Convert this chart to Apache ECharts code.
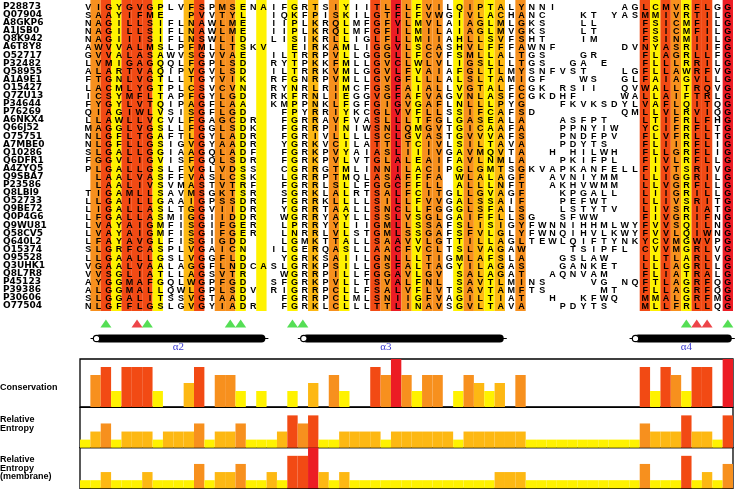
<!DOCTYPE html>
<html>
<head>
<meta charset="utf-8">
<script src="https://cdn.jsdelivr.net/npm/echarts@6/dist/echarts.min.js"></script>
<style>
  html, body { margin: 0; padding: 0; background: #fff; }
  #chart { width: 739px; height: 494px; }
</style>
</head>
<body>
<div id="chart"></div>
<script>
// sequence ids, top to bottom
var ids = ['P28873', 'Q07904', 'A8GKP6', 'A1JSB0', 'Q8K942', 'A6T8Y8', 'O52717', 'P32482', 'Q58955',
  'A1A9E1', 'O15427', 'Q7ZU13', 'P34644', 'P76269', 'A6NKX4', 'Q66J52', 'O75751', 'A7MBE0', 'Q10286',
  'Q6DFR1', 'A4ZYQ5', 'Q9SBA7', 'P23586', 'Q8LBI9', 'O52733', 'Q9BE72', 'Q0P4G6', 'Q9WU81', 'Q58CV5',
  'Q640L2', 'O15374', 'O95528', 'Q3UHK1', 'Q8L7R8', 'P45123', 'P39386', 'P30606', 'O77504'];

// aligned residues, '-' = gap (63 columns)
var seqs = [
  'VIGYGVGPLVFSPMSE' + 'NAIFGRTSIYIITLFLFVILQIPT' + 'ALYNNI------AGLCMVRFLGG',
  'SAAYIFME--PVVTYL' + '--IQKFPISKILGTFLFVWGIVLA' + 'CHANC---KT-YASMMIVRTILG',
  'NAGILLSIFLNAWLME' + '--IIPLKRQLMFGFVLMVLAIAGL' + 'MLGKS---LL----FSICMFILG',
  'NAGILLSIFLNAWLME' + '--IIPLKRQLMFGFILMILAIAGL' + 'MVGKS---LT----FSICMFILG',
  'NAGIIISIFLNSWLID' + '--LISIKRLLIGLFLLMIIAHLLS' + 'VFSHT---IM----FSINMIILG',
  'AWVVALMSLPFMLLTS' + 'KV--EIRKAMLIGGVLSCASHVLF' + 'FFAWNF------DVNYASRIIFG',
  'GVVALASAWVSGVVAE' + '--ILTRRPVLLGGGLLFCVFSMLL' + 'ALTGS---GR----FLAGRLLFG',
  'LVMIGAGQQLFGPLSD' + '--RYTPKKFMLLGVCLWLVLIGSL' + 'LLTGS--GA-E---FLLLRRILG',
  'ALARTVAQIPVGVLSD' + '--ILTRRKVMLGGVLFVAIAFGLT' + 'LMYSNFVST---LGFLLAWRFVG',
  'FTGNLVGTLLTGYVIK' + '--RFGNRPVMLLGVGFLLLALSLT' + 'AMIGF---WS--GLFAIAGVLLG',
  'LACMLYGTPLCSVCVN' + '--RYNRLRIMCFGSFAIALLVGTA' + 'LFCGK-RSII--QVWALLTRQVG',
  'ICSYMFLTAPFGYLGD' + '--RKFRNLIEGGVGFAFVAGVNLA' + 'SFCGKDHF----WALLAIFTRLG',
  'FYGYLVTQIPAGFLAA' + '--KMPPNKLFGFGIGVGAFLNLLL' + 'PYG---FKVKSDYLVAFLQITQG',
  'QIAGIWLVSISGFLGD' + '---FPYRRIYKCGLVVFLLSSIFC' + 'AFSD--------QMLLVLRVIQG',
  'LLAWLLVCVLFGAGCD' + 'R--FGRRAVFVASLLLTFGLGASE' + 'ALA---ASFPT---LTIFRLFHG',
  'MAGGLVGSLLFGGLSD' + 'K--FGRRPINIWSNLQMGVTGICA' + 'AFA---PPNYIW--YCIFRFLTG',
  'NLGFLTGAFTLGYLAD' + 'R--FGRIVLLLLSCLGVASTGVVV' + 'AFS---PNDFPV--FLVFRLLTG',
  'NLGFLLGSIGVGYAAD' + 'R--YGRKVCILATTLTCIVLSILT' + 'AVA---PDYTS---FLIIRFLIG',
  'SLGALLGGIAAGQLAD' + 'F--FGRKPVYAIASLIIIVGAVMQ' + 'VTA--H-HILWH--FLLGRFLIG',
  'FGGVLIGVISFGQLSD' + 'R--FGRKPVLVTGLALEAIFAVLN' + 'MLA---PKIFPL--FIVLRFLLG',
  'PLGALLGSLFVGLVDS' + 'S--CGRRGTMLINNILACIPGLGM' + 'TSGKVAPKANFELLFIVTSRIVG',
  '-LAALVASFFVASLCS' + 'K--LGRRPTMQLASAFFFA-WLAL' + 'AGF--AVNIYMM--LLIGGRILG',
  '-LAALIVSVMASTVTR' + 'F--FGRRLSLLFGGCFFLL-ALLL' + 'NFT--AKHVWMM--LLVGRFLLG',
  'TIGAMLLSAVMSGKTS' + 'R--SGRKLALRTSALFCITGLLGV' + 'AGF---KPGALL--LIIGRILLG',
  'LLGAILLGAAIGPSSD' + 'R--FGRRKLLLLSILLFVVGALSS' + 'AIF---PEFWT---LLIVSRITG',
  'LIGALLASLTGGVIID' + 'R--YGRRTAALLSNCLLFGGGLSF' + 'ALS---LSTYTV--LIVSRIATG',
  'LFGALLASMIGGIIDD' + 'R--WGRRYAYLLSSLVSGLGAIFF' + 'LLSG--SFWW----FIVGRIFNG',
  'LVAYAIGMFISGIFGE' + 'R--LPRRYYLIIGMLLSSAFSLIS' + 'IGYFWNNIHHMLWYFVVSQILNG',
  'LVAYAIGMFISGIFGE' + 'R--LNRRLVLSTGMLSSGAFSFVL' + 'GLYFWNQIHVLKWYFVVLQIWNG',
  'LFAYAVGLFISGIGDD' + '---LGMKTTALLSAAVVLGTTILL' + 'AGLTEWLQIFTYNKYCVMGWVPG',
  'SLGRFCASPLVGAICN' + '--ILGERQASLLAACFVCLTSLVA' + 'GAW----TSIPFL-CVVMGRLVG',
  'LLGAALLGSLVGGFLD' + '---YGRKSAIILGNLLLTIGMLAF' + 'SLA---GSLAW---LLTLARLVG',
  'VGAALVAALAGGFLND' + 'CASLGRKPSILLGSFALTAGYILA' + 'GAS---GANKET--LLLAGRLLG',
  'VVSGLIATLLAGSVTR' + '---WGRRPILLFGGAVLGV-SALA' + 'GAT--AQNVAM---FLIATRALG',
  'AYGGMAFGQLWGPFGD' + '--SFGRKPVLLTSVALFNL-SAVT' + 'LMINS----VG-NQFTLAGRFQG',
  'ALGGMALLQWLGPLSD' + 'V-RIGRRPCLLFSALVFLVTSAVT' + 'AMFTS-----MT--FLLAGRFQG',
  'SLGGALITSSVGTAAD' + '---FGRRPCLMLSNIIGFVAGILT' + 'IAT--H--KFWQ--MMALGRFMG',
  'NLGFFLGSLGVGYIAD' + 'R--FGRKLCLLLTTLINAVSGVLT' + 'AVA---PDYTS---MLLFRLLQG'
];

// per-column classes: 0 = none, 1 yellow .. 5 red
var conservation = [0, 3, 4, 1, 4, 4, 4, 1, 0, 0,
  2, 4, 0, 3, 3, 1, 0, 1, 0, 0,
  1, 0, 2, 0, 3, 1, 0, 0, 4, 3,
  5, 3, 1, 3, 3, 0, 1, 3, 2, 1,
  2, 0, 3, 0, 0, 0, 0, 0, 0, 0, 0, 0, 0, 0,
  4, 1, 4, 3, 1, 4, 4, 0, 5];
var relEntropy = [1, 2, 3, 1, 2, 2, 2, 1, 2, 2,
  2, 3, 1, 2, 2, 3, 1, 1, 1, 2,
  4, 3, 4, 1, 1, 2, 2, 2, 2, 1,
  2, 2, 2, 2, 2, 2, 1, 2, 2, 2,
  2, 2, 2, 1, 1, 1, 1, 1, 1, 1, 1, 1, 1, 1,
  3, 2, 2, 2, 4, 2, 2, 1, 4];
var relEntropyMembrane = [1, 1, 2, 1, 1, 1, 2, 1, 1, 1,
  1, 3, 1, 2, 2, 3, 1, 1, 2, 1,
  4, 4, 5, 2, 1, 2, 1, 1, 1, 1,
  1, 1, 1, 1, 1, 1, 1, 1, 1, 1,
  2, 2, 2, 1, 1, 1, 1, 1, 1, 1, 1, 1, 1, 1,
  3, 1, 1, 1, 4, 1, 2, 1, 3];

// marked sites (column indices)
var greenSites = [2, 6, 14, 15, 20, 21, 58, 62];
var redSites = [5, 59, 60];

// secondary structure
var helixNames = ['\u03b12', '\u03b13', '\u03b14'];
var helixStart = [1, 21, 53];
var helixEnd = [17, 40, 62];
var helixLabelAt = [9, 29, 58];

var shade = ['#ffffff', '#fff200', '#fdb813', '#f7901e', '#f24a14', '#ec1c24'];

var cols = conservation.map(function (v, i) { return String(i + 1); });

var residues = [];
var residueChars = [];
seqs.forEach(function (s, r) {
  for (var c = 0; c < cols.length; c++) {
    var ch = s.charAt(c);
    if (ch && ch !== '-') {
      residues.push([c, r]);
      residueChars.push(ch);
    }
  }
});

function renderResidue(params, api) {
  var p = api.coord([api.value(0), api.value(1)]);
  return {
    type: 'text',
    x: p[0],
    y: p[1] + 0.5,
    style: {
      text: residueChars[params.dataIndex],
      font: 'bold 9px "Liberation Sans"',
      fill: '#000',
      align: 'center',
      verticalAlign: 'middle'
    }
  };
}

function renderHelix(params, api) {
  var a = api.coord([api.value(0), 1]);
  var b = api.coord([api.value(1), 1]);
  var t = api.coord([api.value(2), 1]);
  var y = a[1], h = 8;
  return {
    type: 'group',
    children: [
      { type: 'line', shape: { x1: a[0] - 5, y1: y, x2: b[0] + 7, y2: y }, style: { stroke: '#000', lineWidth: 1 } },
      { type: 'rect', shape: { x: a[0], y: y - h / 2, width: b[0] - a[0] + 4, height: h, r: h / 2 }, style: { fill: '#000' } },
      { type: 'circle', shape: { cx: a[0] + 1, cy: y, r: 3.2 }, style: { fill: '#fff', stroke: '#000', lineWidth: 1.2 } },
      {
        type: 'text', x: t[0], y: y + 9,
        style: { text: helixNames[params.dataIndex], font: '11px "Liberation Serif"', fill: '#3b3bd0', align: 'center', verticalAlign: 'middle' }
      }
    ]
  };
}

function barData(levels, offset) {
  return levels.map(function (l) {
    return { value: l ? l + offset : 0, itemStyle: { color: shade[l] } };
  });
}

var panelGrid = { left: 80, width: 653, show: true, borderColor: '#000', borderWidth: 1.3, backgroundColor: 'transparent' };

var labelFont = 'bold 9px "Liberation Sans"';

var option = {
  animation: false,
  grid: [
    { left: 80, width: 653, top: 2.6, height: 307.6 },
    { left: 80, width: 653, top: 0, height: 311 },
    { left: 80, width: 653, top: 316, height: 30 },
    Object.assign({ top: 359, height: 48 }, panelGrid),
    Object.assign({ top: 407.3, height: 40.4 }, panelGrid),
    Object.assign({ top: 447.7, height: 40.6 }, panelGrid)
  ],
  xAxis: [0, 1, 2, 3, 4, 5].map(function (i) {
    return { type: 'category', gridIndex: i, data: cols, show: false };
  }),
  yAxis: [
    {
      type: 'category', gridIndex: 0, data: ids, inverse: true,
      axisLine: { show: false }, axisTick: { show: false }, splitLine: { show: false },
      axisLabel: {
        interval: 0, align: 'left', margin: 80, color: '#000',
        fontFamily: 'DejaVu Sans', fontWeight: 'bold', fontSize: 9
      }
    },
    { type: 'value', gridIndex: 1, min: 0, max: 1, show: false },
    { type: 'category', gridIndex: 2, data: ['sites', 'helix'], inverse: true, show: false },
    { type: 'value', gridIndex: 3, min: 0, max: 6, show: false },
    { type: 'value', gridIndex: 4, min: 0, max: 5, show: false },
    { type: 'value', gridIndex: 5, min: 0, max: 5, show: false }
  ],
  series: [
    {
      type: 'bar', xAxisIndex: 1, yAxisIndex: 1, barCategoryGap: '0%', silent: true, z: 1,
      data: conservation.map(function (l) {
        return { value: l ? 1 : 0, itemStyle: { color: shade[l] } };
      })
    },
    {
      type: 'custom', xAxisIndex: 0, yAxisIndex: 0, z: 5, silent: true,
      renderItem: renderResidue, data: residues
    },
    {
      type: 'scatter', xAxisIndex: 2, yAxisIndex: 2, symbol: 'triangle', symbolSize: [11, 8],
      itemStyle: { color: '#2bd62b' },
      data: greenSites.map(function (c) { return [c, 0]; })
    },
    {
      type: 'scatter', xAxisIndex: 2, yAxisIndex: 2, symbol: 'triangle', symbolSize: [11, 8],
      itemStyle: { color: '#e8161b' },
      data: redSites.map(function (c) { return [c, 0]; })
    },
    {
      type: 'custom', xAxisIndex: 2, yAxisIndex: 2, renderItem: renderHelix,
      encode: { x: 0, y: 3 },
      data: helixStart.map(function (s, i) { return [s, helixEnd[i], helixLabelAt[i], 1]; })
    },
    { type: 'bar', xAxisIndex: 3, yAxisIndex: 3, barCategoryGap: '0%', data: barData(conservation, 1) },
    { type: 'bar', xAxisIndex: 4, yAxisIndex: 4, barCategoryGap: '0%', data: barData(relEntropy, 0) },
    { type: 'bar', xAxisIndex: 5, yAxisIndex: 5, barCategoryGap: '0%', data: barData(relEntropyMembrane, 0) }
  ],
  graphic: [
    { type: 'text', left: 0, top: 383, style: { text: 'Conservation', font: labelFont, fill: '#000' } },
    { type: 'text', left: 0, top: 415.5, style: { text: 'Relative\nEntropy', font: labelFont, lineHeight: 8.5, fill: '#000' } },
    { type: 'text', left: 0, top: 455.5, style: { text: 'Relative\nEntropy\n(membrane)', font: labelFont, lineHeight: 8.5, fill: '#000' } }
  ]
};

var myChart = echarts.init(document.getElementById('chart'));
myChart.setOption(option);
</script>
</body>
</html>
